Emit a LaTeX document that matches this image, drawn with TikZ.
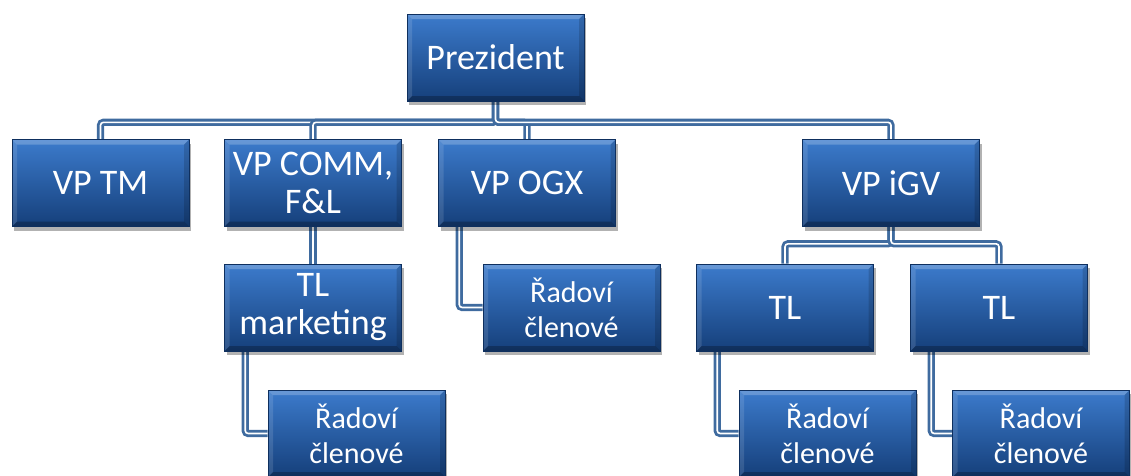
\documentclass[tikz,border=0pt]{standalone}
\usepackage{fontspec}
\setmainfont{Carlito}
\usetikzlibrary{shadows,calc,backgrounds}

\definecolor{boxtop}{HTML}{3C7BCC}
\definecolor{boxbot}{HTML}{153F7A}
\definecolor{boxedge}{HTML}{0E2F5E}
\definecolor{linkblue}{HTML}{3F6B9F}

\newcommand{\bigtxt}{\fontsize{36}{40}\selectfont}
\newcommand{\smalltxt}{\fontsize{30}{35}\selectfont}

\tikzset{
  orgbox/.style={rectangle, minimum width=177pt, minimum height=87pt,
    inner sep=0pt, top color=boxtop, bottom color=boxbot,
    draw=boxedge, line width=0.6pt, text=white, align=center, font=\bigtxt,
    drop shadow={shadow xshift=2pt, shadow yshift=-4pt, opacity=0.3, fill=black},
    path picture={
      % bevelled rim: light top and left, dark bottom and right
      \fill[white,opacity=0.22] (path picture bounding box.north west) -- (path picture bounding box.north east)
        -- ([xshift=-5pt,yshift=-5pt]path picture bounding box.north east)
        -- ([xshift=5pt,yshift=-5pt]path picture bounding box.north west) -- cycle;
      \fill[white,opacity=0.12] (path picture bounding box.north west) -- ([xshift=5pt,yshift=-5pt]path picture bounding box.north west)
        -- ([xshift=5pt,yshift=5pt]path picture bounding box.south west) -- (path picture bounding box.south west) -- cycle;
      \fill[black,opacity=0.25] (path picture bounding box.south west) -- (path picture bounding box.south east)
        -- ([xshift=-5pt,yshift=5pt]path picture bounding box.south east)
        -- ([xshift=5pt,yshift=5pt]path picture bounding box.south west) -- cycle;
      \fill[black,opacity=0.15] (path picture bounding box.north east) -- ([xshift=-5pt,yshift=-5pt]path picture bounding box.north east)
        -- ([xshift=-5pt,yshift=5pt]path picture bounding box.south east) -- (path picture bounding box.south east) -- cycle;
    }},
  memberbox/.style={orgbox, font=\smalltxt},
  link/.style={draw=linkblue, line width=2.8pt, double=white, double distance=1.6pt,
    rounded corners=3pt},
}

\begin{document}
\begin{tikzpicture}[x=1pt, y=-1pt]
  \useasboundingbox (0,0) rectangle (1131,475);

  % top level
  \node[orgbox] (pres) at (495.5,57.5) {Prezident};

  % vice-presidents
  \node[orgbox] (vptm)   at (100.5,183) {VP TM};
  \node[orgbox] (vpcomm) at (313,183)   {VP COMM,\\[-2pt]F\&L};
  \node[orgbox] (vpogx)  at (527,183)   {VP OGX};
  \node[orgbox] (vpigv)  at (891,183)   {VP iGV};

  % team leaders
  \node[orgbox] (tlm) at (313,307.5) {TL\\[-2pt]marketing};
  \node[orgbox] (tla) at (785,307.5) {TL};
  \node[orgbox] (tlb) at (999,307.5) {TL};

  % members
  \node[memberbox] (ogxm) at (571.5,307.5) {Řadoví\\členové};
  \node[memberbox] (mkm)  at (356.5,433.5) {Řadoví\\členové};
  \node[memberbox] (tlam) at (827.5,433.5) {Řadoví\\členové};
  \node[memberbox] (tlbm) at (1041,433.5)  {Řadoví\\členové};

  \begin{scope}[on background layer]
    % president to vice-presidents
    \foreach \vp in {vptm,vpcomm,vpogx,vpigv}
      \draw[link] (pres.south) -- ++(0,21) -| (\vp.north);
    % VP COMM to its team leader
    \draw[link] (vpcomm.south) -- (tlm.north);
    % VP iGV to its two team leaders
    \foreach \tl in {tla,tlb}
      \draw[link] (vpigv.south) -- ++(0,17) -| (\tl.north);
    % side branches to members
    \draw[link] ($(vpogx.south west)+(21,0)$) |- (ogxm.west);
    \draw[link] ($(tlm.south west)+(21,0)$) |- (mkm.west);
    \draw[link] ($(tla.south west)+(21,0)$) |- (tlam.west);
    \draw[link] ($(tlb.south west)+(21,0)$) |- (tlbm.west);
  \end{scope}
\end{tikzpicture}
\end{document}
